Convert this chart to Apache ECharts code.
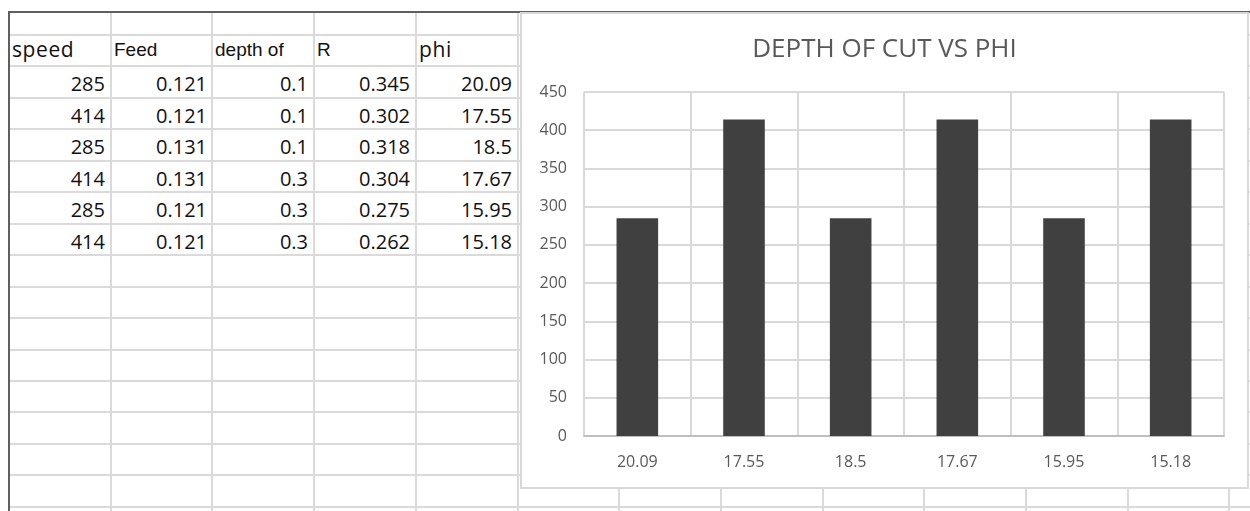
<!DOCTYPE html>
<html>
<head>
<meta charset="utf-8">
<script src="https://cdn.jsdelivr.net/npm/echarts@6/dist/echarts.min.js"></script>
<style>
  html, body { margin: 0; padding: 0; background: #ffffff; }
  body { width: 1250px; height: 511px; position: relative; overflow: hidden; }
  .hl { position: absolute; left: 9px; right: 0; height: 2px; background: #dadada; }
  .vl { position: absolute; top: 12px; bottom: 0; width: 2px; background: #dadada; }
  .cell { position: absolute; height: 31px; line-height: 31px; font-family: "Open Sans", sans-serif;
          font-size: 20px; color: #111111; white-space: nowrap; overflow: hidden; }
  #chart { position: absolute; left: 522px; top: 14px; width: 725px; height: 473px;
           background: #ffffff; outline: 2px solid #d9d9d9; }
</style>
</head>
<body>
<div id="sheet"></div>
<div id="chart"></div>
<script>
// ---- data ----
var headers = ["speed", "Feed", "depth of", "R", "phi"];
var speed = [285, 414, 285, 414, 285, 414];
var feed = ["0.121", "0.121", "0.131", "0.131", "0.121", "0.121"];
var depth = ["0.1", "0.1", "0.1", "0.3", "0.3", "0.3"];
var rValues = ["0.345", "0.302", "0.318", "0.304", "0.275", "0.262"];
var phi = ["20.09", "17.55", "18.5", "17.67", "15.95", "15.18"];
var yTicks = [0, 50, 100, 150, 200, 250, 300, 350, 400, 450];
var chartTitle = "DEPTH OF CUT VS PHI";

(function () {
  // ---- spreadsheet grid ----
  var sheet = document.getElementById('sheet');
  var colW = 101.7, colX0 = 9, rowH = 31.45, rowY0 = 35;
  var i, j;
  for (i = 0; i < 16; i++) {
    var h = document.createElement('div');
    h.className = 'hl';
    h.style.top = Math.round(rowY0 + i * rowH - 1) + 'px';
    sheet.appendChild(h);
  }
  for (j = 1; j < 13; j++) {
    var v = document.createElement('div');
    v.className = 'vl';
    v.style.left = Math.round(colX0 + j * colW - 1) + 'px';
    sheet.appendChild(v);
  }
  var topB = document.createElement('div');
  topB.style.cssText = 'position:absolute;left:9px;right:0;top:11px;height:2px;background:#5f5f5f;';
  sheet.appendChild(topB);
  var leftB = document.createElement('div');
  leftB.style.cssText = 'position:absolute;left:8px;width:2px;top:11px;bottom:0;background:#5f5f5f;';
  sheet.appendChild(leftB);

  function addCell(col, row, text, align, extra) {
    var c = document.createElement('div');
    c.className = 'cell';
    var x = colX0 + col * colW;
    c.style.left = Math.round(x + 3) + 'px';
    c.style.width = Math.round(colW - 9) + 'px';
    c.style.top = Math.round(rowY0 + row * rowH + 2) + 'px';
    c.style.textAlign = align;
    if (extra) c.style.cssText += extra;
    c.textContent = text;
    sheet.appendChild(c);
  }
  var hf = 'font-family:"Liberation Sans";font-size:19px;';
  var sf = 'font-size:21px;letter-spacing:0.6px;';
  var headerFonts = [sf, hf, hf, hf, sf];
  for (j = 0; j < headers.length; j++) addCell(j, 0, headers[j], 'left', headerFonts[j] + 'margin-top:-3px;');
  var cols = [speed, feed, depth, rValues, phi];
  for (j = 0; j < cols.length; j++) {
    for (i = 0; i < cols[j].length; i++) addCell(j, i + 1, String(cols[j][i]), 'right');
  }

  // ---- chart ----
  var chart = echarts.init(document.getElementById('chart'), null, { renderer: 'canvas' });
  chart.setOption({
    animation: false,
    backgroundColor: '#ffffff',
    title: {
      text: chartTitle,
      left: 'center',
      top: 18,
      textStyle: { fontFamily: 'Open Sans', fontSize: 26, fontWeight: 'normal', color: '#595959' }
    },
    grid: { left: 62, top: 78, right: 23, bottom: 51 },
    xAxis: {
      type: 'category',
      data: phi,
      boundaryGap: true,
      axisLine: { show: true, lineStyle: { color: '#bfbfbf', width: 2 } },
      axisTick: { show: false },
      splitLine: { show: true, interval: 0, lineStyle: { color: '#d9d9d9', width: 2 } },
      axisLabel: { color: '#595959', fontFamily: 'Open Sans', fontSize: 16, margin: 18, interval: 0 }
    },
    yAxis: {
      type: 'value',
      min: yTicks[0],
      max: yTicks[yTicks.length - 1],
      interval: yTicks[1] - yTicks[0],
      axisLine: { show: false },
      axisTick: { show: false },
      splitLine: { show: true, lineStyle: { color: '#d9d9d9', width: 2 } },
      axisLabel: { color: '#595959', fontFamily: 'Open Sans', fontSize: 16, margin: 17 }
    },
    series: [{
      type: 'bar',
      data: speed,
      barWidth: '39%',
      itemStyle: { color: '#404040' }
    }]
  });
})();
</script>
</body>
</html>
